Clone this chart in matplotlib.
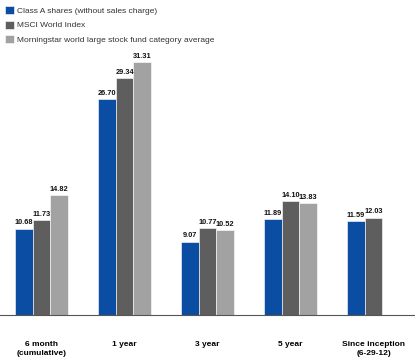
import matplotlib.pyplot as plt

# Data
periods = ["6 month\n(cumulative)", "1 year", "3 year", "5 year", "Since inception\n(6-29-12)"]
series_names = [
    "Class A shares (without sales charge)",
    "MSCI World Index",
    "Morningstar world large stock fund category average",
]
class_a = [10.68, 26.70, 9.07, 11.89, 11.59]
msci = [11.73, 29.34, 10.77, 14.10, 12.03]
morningstar = [14.82, 31.31, 10.52, 13.83, None]

colors = ["#0b4da2", "#5e5e5e", "#a2a2a2"]
font = ["Liberation Sans", "DejaVu Sans"]

fig = plt.figure(figsize=(4.15, 3.63), dpi=100)
ax = fig.add_axes([0, 48 / 363, 1, 315 / 363])

width = 0.212
x = list(range(len(periods)))
for i, (vals, name) in enumerate(zip([class_a, msci, morningstar], series_names)):
    xs = [p + (i - 1) * width for p, v in zip(x, vals) if v is not None]
    vs = [v for v in vals if v is not None]
    bars = ax.bar(xs, vs, width, color=colors[i], label=name,
                  edgecolor="white", linewidth=0.4)
    for b, v in zip(bars, vs):
        ax.text(b.get_x() + b.get_width() / 2, v + 0.3, f"{v:.2f}",
                ha="center", va="bottom", fontsize=5.3, fontweight="bold",
                family=font, color="#111111")

ax.set_xlim(-0.5, 4.5)
ax.set_ylim(0, 39.0)
ax.set_xticks(x)
ax.set_xticklabels(periods, fontsize=6, fontweight="bold", family=font,
                   linespacing=1.3)
ax.tick_params(axis="x", length=0, pad=19)
ax.set_yticks([])
for s in ["top", "right", "left"]:
    ax.spines[s].set_visible(False)
ax.spines["bottom"].set_color("#555555")
ax.spines["bottom"].set_linewidth(0.8)

ax.legend(loc="upper left", bbox_to_anchor=(-0.003, 1.0), frameon=False,
          prop={"family": font, "size": 6}, handlelength=1.1, handleheight=1.1,
          handletextpad=0.4, labelspacing=0.7, borderaxespad=0.3,
          labelcolor="#333333")

plt.savefig("out.png", dpi=100)
